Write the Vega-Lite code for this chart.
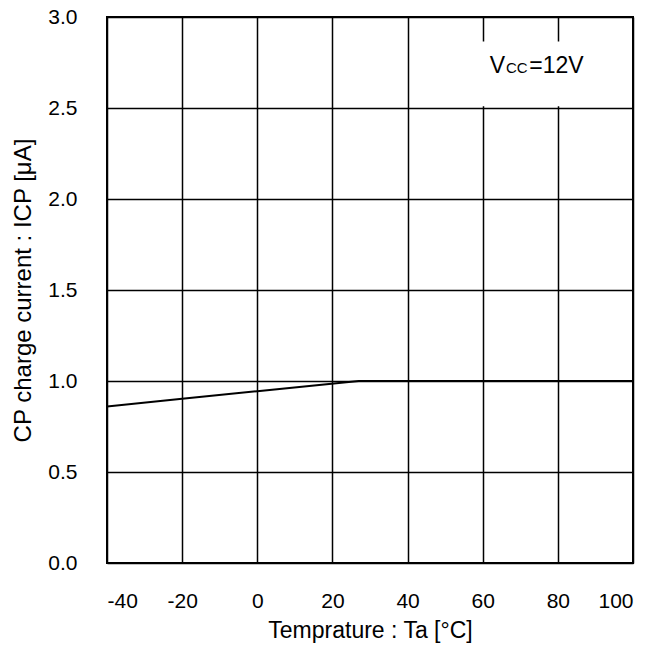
{
  "$schema": "https://vega.github.io/schema/vega-lite/v6.json",
  "autosize": {"type": "none"},
  "width": 526,
  "height": 546,
  "padding": {"left": 107, "top": 17, "right": 37, "bottom": 82},
  "background": "white",
  "config": {
    "font": "Liberation Sans",
    "view": {"stroke": "black", "strokeWidth": 2},
    "axis": {
      "grid": true,
      "gridColor": "black",
      "gridOpacity": 1,
      "gridWidth": 1.5,
      "domain": false,
      "ticks": false,
      "labelFont": "Liberation Sans",
      "labelFontSize": 21,
      "labelColor": "black",
      "titleFont": "Liberation Sans",
      "titleFontSize": 23,
      "titleFontWeight": "normal",
      "titleColor": "black"
    }
  },
  "datasets": {
    "curve": [
      {"Ta": -40, "ICP": 0.86},
      {"Ta": -20, "ICP": 0.902},
      {"Ta": 0, "ICP": 0.944},
      {"Ta": 27, "ICP": 1.0},
      {"Ta": 60, "ICP": 1.0},
      {"Ta": 100, "ICP": 1.0}
    ],
    "box": [{"x1": 55, "x2": 99.7, "y1": 2.51, "y2": 2.865}],
    "label": [
      {"part": "V", "Ta": 61.9, "ICP": 2.69, "big": true},
      {"part": "CC", "Ta": 66.2, "ICP": 2.69, "big": false},
      {"part": "=12V", "Ta": 72.4, "ICP": 2.69, "big": true}
    ]
  },
  "layer": [
    {
      "data": {"name": "curve"},
      "mark": {"type": "line", "color": "black", "strokeWidth": 2, "clip": true},
      "encoding": {
        "x": {
          "field": "Ta", "type": "quantitative",
          "scale": {"domain": [-40, 100], "nice": false, "zero": false},
          "axis": {"values": [-40, -20, 0, 20, 40, 60, 80, 100], "labelExpr": "'' + datum.value", "title": "Temprature : Ta [°C]", "labelPadding": 27, "titlePadding": 8}
        },
        "y": {
          "field": "ICP", "type": "quantitative",
          "scale": {"domain": [0, 3], "nice": false},
          "axis": {"values": [0, 0.5, 1, 1.5, 2, 2.5, 3], "format": ".1f", "title": "CP charge current : ICP [μA]", "labelPadding": 30, "titlePadding": 12, "titleFontSize": 24}
        }
      }
    },
    {
      "data": {"name": "box"},
      "mark": {"type": "rect", "fill": "white"},
      "encoding": {
        "x": {"field": "x1", "type": "quantitative"},
        "x2": {"field": "x2"},
        "y": {"field": "y1", "type": "quantitative"},
        "y2": {"field": "y2"}
      }
    },
    {
      "data": {"name": "label"},
      "transform": [{"filter": "datum.big"}],
      "mark": {"type": "text", "align": "left", "baseline": "alphabetic", "fontSize": 23, "color": "black", "font": "Liberation Sans"},
      "encoding": {
        "x": {"field": "Ta", "type": "quantitative"},
        "y": {"field": "ICP", "type": "quantitative"},
        "text": {"field": "part"}
      }
    },
    {
      "data": {"name": "label"},
      "transform": [{"filter": "!datum.big"}],
      "mark": {"type": "text", "align": "left", "baseline": "alphabetic", "fontSize": 15, "color": "black", "font": "Liberation Sans"},
      "encoding": {
        "x": {"field": "Ta", "type": "quantitative"},
        "y": {"field": "ICP", "type": "quantitative"},
        "text": {"field": "part"}
      }
    }
  ]
}
